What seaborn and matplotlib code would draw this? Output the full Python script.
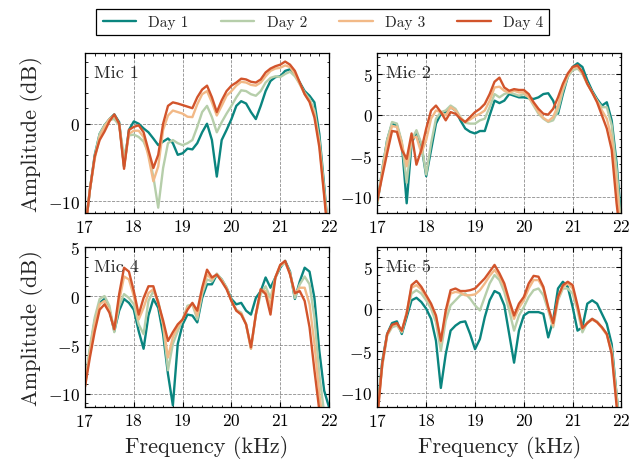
import numpy as np
import pandas as pd
import matplotlib
matplotlib.use("Agg")
import matplotlib.pyplot as plt
from matplotlib.ticker import MultipleLocator, AutoMinorLocator
import seaborn as sns

# ---- data ----
freq = np.round(np.linspace(17.0, 22.0, 51), 1)
days = ["Day 1", "Day 2", "Day 3", "Day 4"]
colors = ["#0a857f", "#b6ceaa", "#f2b987", "#d2542b"]
mics = ["Mic 1", "Mic 2", "Mic 4", "Mic 5"]

mic1_day1 = [-14, -8.5, -4.0, -1.3, -0.2, 0.6, 1.2, 0.2, -5.5, -0.8,
             0.3, 0.0, -0.6, -1.1, -1.9, -2.75, -2.3, -1.9, -2.5, -4.0,
             -3.8, -3.2, -3.3, -2.5, -1.1, 0.0, -2.1, -6.8, -2.1, -0.8,
             0.6, 2.3, 2.9, 2.6, 1.5, 0.6, 2.3, 4.2, 5.5, 6.0,
             6.1, 6.8, 7.0, 6.4, 5.3, 4.2, 3.6, 2.75, -1.3, -8.0, -15]
mic1_day2 = [-14, -8.5, -4.2, -1.3, -0.2, 0.5, 0.6, -0.2, -4.2, -1.5,
             -1.4, -1.7, -2.3, -3.8, -6.8, -10.8, -5.7, -2.5, -2.1, -2.5,
             -2.75, -2.5, -2.1, -0.4, 1.5, 2.3, 0.85, -1.1, 0.2, 1.3,
             2.3, 3.4, 4.3, 4.2, 3.8, 3.6, 4.2, 5.3, 5.9, 6.1,
             6.0, 6.4, 6.7, 6.1, 5.1, 4.0, 3.2, 1.7, -2.1, -8.5, -15]
mic1_day3 = [-14, -8.5, -4.5, -1.7, -0.4, 0.6, 1.06, 0.0, -5.5, -1.3,
             -0.9, -0.9, -1.7, -4.2, -7.4, -5.5, -0.8, 1.06, 1.7, 1.5,
             1.3, 0.9, 0.85, 2.5, 3.8, 4.2, 2.75, 1.06, 2.3, 3.6,
             4.2, 4.9, 5.4, 5.3, 5.0, 4.9, 5.3, 6.1, 6.8, 7.1,
             7.2, 7.5, 7.3, 6.4, 5.1, 3.8, 2.9, 1.3, -2.5, -8.9, -15]
mic1_day4 = [-14, -8.5, -4.2, -2.1, -1.0, 0.3, 1.2, 0.0, -5.8, -0.8,
             -0.4, -0.2, -1.1, -3.4, -5.7, -4.0, 0.0, 2.3, 2.75, 2.6,
             2.4, 2.2, 2.0, 3.4, 4.4, 4.9, 3.4, 1.5, 3.0, 4.2,
             4.9, 5.3, 5.8, 5.7, 5.4, 5.3, 5.7, 6.6, 7.1, 7.4,
             7.6, 8.0, 7.6, 6.8, 5.3, 3.8, 2.8, 0.8, -3.0, -9.3, -16]

mic2_day1 = [-10.8, -6.7, -3.1, -1.1, -1.3, -3.5, -10.8, -3.5, -2.1, -3.7,
             -7.5, -4.3, -1.1, 0.1, 0.3, 0.9, 0.5, -0.7, -1.7, -2.1,
             -2.3, -2.0, -2.0, -0.1, 1.7, 1.4, 1.7, 2.5, 2.3, 2.1,
             2.1, 2.0, 1.9, 2.1, 2.5, 2.6, 1.7, 0.1, 2.5, 4.6,
             5.8, 6.25, 5.8, 4.2, 2.9, 1.9, 1.1, 1.5, -0.7, -5.9, -13]
mic2_day2 = [-10.8, -6.8, -3.1, -0.9, -1.1, -3.3, -8.3, -3.1, -1.9, -3.5,
             -7.3, -3.5, -0.5, 0.3, 0.5, 1.1, 0.7, -0.3, -1.0, -1.1,
             -1.1, -0.7, -0.5, 0.9, 2.5, 2.1, 2.5, 2.7, 2.5, 2.3,
             2.5, 2.1, 1.1, 0.1, -0.5, -0.9, -0.7, 0.5, 2.9, 4.6,
             5.4, 5.6, 5.0, 3.75, 2.7, 1.7, 0.9, 0.9, -1.3, -6.7, -14]
mic2_day3 = [-10.6, -7.0, -3.6, -1.4, -1.5, -3.5, -6.3, -2.9, -2.7, -4.7,
             -3.1, -0.5, 0.5, 0.3, -0.1, 0.9, 0.5, -0.4, -0.9, -0.6,
             -0.2, 0.1, 0.5, 1.7, 3.3, 3.4, 2.9, 2.7, 2.9, 2.7,
             2.7, 2.1, 1.3, 0.3, -0.4, -0.8, -0.3, 1.1, 3.3, 4.8,
             5.7, 5.8, 5.0, 3.75, 2.7, 1.65, 0.5, -0.5, -2.9, -8.3, -15]
mic2_day4 = [-10.4, -7.5, -4.7, -2.0, -2.1, -4.3, -5.4, -2.3, -6.1, -4.3,
             -1.7, 0.5, 1.1, 0.3, -0.7, 0.3, 0.1, -0.5, -0.9, -0.3,
             0.3, 0.7, 1.3, 2.5, 4.0, 4.5, 3.3, 2.9, 3.1, 3.0,
             3.0, 2.5, 1.5, 0.7, 0.1, 0.0, 0.7, 2.1, 3.75, 5.0,
             5.8, 6.0, 5.2, 3.75, 2.7, 1.5, -0.1, -1.7, -4.3, -10.8, -16]

mic4_day1 = [-9.0, -5.6, -2.5, -0.7, -0.3, -1.4, -3.6, -1.5, -0.3, -0.7,
             -1.4, -3.6, -5.4, -2.0, -0.3, -1.2, -3.9, -8.0, -11.2, -4.9,
             -2.9, -1.9, -2.0, -2.7, -0.2, 1.2, 1.2, 2.2, 1.7, 0.85,
             -0.3, -0.85, -0.7, -1.5, -1.9, -0.2, 0.5, 1.9, 0.85, 1.9,
             2.9, 3.6, 2.5, -0.3, 1.5, 2.9, 2.5, -0.2, -5.6, -9.7, -11.4]
mic4_day2 = [-9.0, -5.25, -2.2, -0.3, 0.0, -1.0, -3.7, -1.0, 0.2, -0.2,
             -0.85, -2.9, -3.9, -0.5, 0.5, -0.5, -2.9, -7.6, -4.9, -3.6,
             -2.4, -1.0, -0.85, -2.4, 0.2, 1.7, 1.5, 2.3, 1.7, 0.85,
             -0.5, -1.4, -1.7, -2.9, -5.4, -1.9, 0.2, 1.0, -0.2, 1.9,
             3.05, 3.4, 2.4, -0.2, 1.2, 2.0, 1.2, -2.2, -8.0, -12, -15]
mic4_day3 = [-9.2, -5.8, -2.9, -0.85, -0.5, -1.5, -3.4, -0.5, 2.0, 1.7,
             0.0, -2.4, -1.2, 0.3, 0.7, -0.7, -2.9, -6.3, -4.2, -3.2,
             -2.4, -1.2, -0.8, -2.0, 0.5, 2.2, 1.7, 2.2, 1.6, 0.8,
             -0.5, -1.5, -1.8, -2.9, -5.4, -1.9, 0.6, 0.5, -1.0, 1.9,
             3.15, 3.5, 2.3, 0.2, 0.85, 0.85, -0.85, -4.9, -10, -14, -17]
mic4_day4 = [-9.3, -6.3, -3.6, -1.4, -0.85, -1.7, -3.4, 0.2, 2.9, 2.5,
             0.5, -1.9, -0.2, 1.0, 1.0, -0.7, -2.5, -4.6, -3.7, -2.9,
             -2.4, -1.4, -0.7, -1.5, 0.85, 2.7, 1.9, 2.2, 1.5, 0.7,
             -0.5, -1.5, -1.9, -2.9, -5.25, -1.9, 0.7, 0.2, -1.9, 1.9,
             3.2, 3.6, 2.2, 0.3, 0.5, -0.5, -3.2, -7.6, -11.7, -15, -18]

mic5_day1 = [-12, -6.2, -3.0, -1.7, -1.5, -3.0, -1.0, 1.0, 1.3, 0.8,
             0.0, -1.2, -3.8, -9.4, -5.4, -2.6, -2.0, -1.6, -1.5, -3.0,
             -4.8, -3.6, -1.0, 1.0, 2.1, 1.8, 0.4, -3.0, -6.4, -2.6,
             -0.8, -0.4, -0.4, -0.4, -0.6, -3.4, -1.4, 2.4, 3.2, 2.6,
             0.2, -2.6, -2.2, 0.6, 1.0, 0.6, -0.6, -1.8, -4.2, -10.2, -16]
mic5_day2 = [-12, -6.8, -3.2, -2.2, -2.0, -2.8, -0.6, 1.8, 2.2, 1.8,
             1.0, 0.0, -1.6, -5.0, -1.4, 0.4, 1.0, 1.6, 1.8, 1.2,
             0.4, -0.2, 1.4, 3.0, 4.0, 3.4, 2.0, -0.2, -2.6, -0.8,
             0.2, 1.4, 2.2, 2.4, 1.6, -0.2, -2.2, 1.0, 2.4, 2.4,
             1.8, -0.2, -2.8, -1.6, -1.2, -1.5, -2.2, -3.0, -4.8, -10.2, -16]
mic5_day3 = [-12.5, -6.6, -3.1, -2.0, -1.8, -2.7, -0.4, 2.5, 2.8, 2.3,
             1.4, 0.4, -1.0, -4.0, -0.6, 1.8, 2.0, 1.9, 1.6, 1.6,
             1.7, 2.2, 3.0, 3.9, 4.6, 3.8, 2.6, 0.6, -1.2, 0.1,
             1.0, 2.4, 3.4, 3.4, 2.4, 0.0, -2.0, 1.2, 2.6, 3.0,
             2.4, 0.1, -2.4, -1.7, -1.3, -1.6, -2.3, -3.1, -5.2, -11, -17]
mic5_day4 = [-13, -6.5, -3.0, -1.9, -1.7, -2.6, -0.6, 2.8, 3.3, 2.6,
             1.6, 0.6, -0.8, -3.8, -0.2, 2.2, 2.4, 2.1, 2.1, 2.2,
             2.4, 3.0, 3.6, 4.4, 5.2, 4.2, 3.0, 1.0, -0.8, 0.6,
             1.4, 3.0, 3.9, 3.8, 2.6, 0.2, -1.7, 1.4, 2.8, 3.2,
             2.8, 0.4, -2.3, -1.7, -1.2, -1.6, -2.2, -3.0, -5.4, -11.5, -17]

series = {
    "Mic 1": [mic1_day1, mic1_day2, mic1_day3, mic1_day4],
    "Mic 2": [mic2_day1, mic2_day2, mic2_day3, mic2_day4],
    "Mic 4": [mic4_day1, mic4_day2, mic4_day3, mic4_day4],
    "Mic 5": [mic5_day1, mic5_day2, mic5_day3, mic5_day4],
}
ylims = {"Mic 1": (-11.5, 9.1), "Mic 2": (-12.0, 7.5),
         "Mic 4": (-11.4, 5.0), "Mic 5": (-11.7, 7.3)}
ysteps = {"Mic 1": 10, "Mic 2": 5, "Mic 4": 5, "Mic 5": 5}

# ---- style ----
sns.set_style("ticks")
plt.rcParams["font.family"] = "serif"
plt.rcParams["font.serif"] = ["cmr10"]
plt.rcParams["mathtext.fontset"] = "cm"
plt.rcParams["axes.formatter.use_mathtext"] = True
plt.rcParams["axes.unicode_minus"] = True
plt.rcParams["xtick.direction"] = "in"
plt.rcParams["ytick.direction"] = "in"
plt.rcParams["xtick.top"] = True
plt.rcParams["ytick.right"] = True
plt.rcParams["xtick.major.size"] = 3.5
plt.rcParams["ytick.major.size"] = 3.5
plt.rcParams["xtick.minor.size"] = 1.8
plt.rcParams["ytick.minor.size"] = 1.8
plt.rcParams["axes.edgecolor"] = "black"
plt.rcParams["axes.linewidth"] = 0.9
plt.rcParams["lines.solid_joinstyle"] = "round"
plt.rcParams["lines.solid_capstyle"] = "round"

fig, axes = plt.subplots(2, 2, figsize=(6.42, 4.64), dpi=100)
fig.subplots_adjust(left=0.1324, right=0.968, top=0.8836, bottom=0.12,
                    wspace=0.198, hspace=0.213)

for ax, mic in zip(axes.flat, mics):
    df = pd.DataFrame({
        "freq": np.tile(freq, len(days)),
        "amp": np.concatenate(series[mic]),
        "day": np.repeat(days, len(freq)),
    })
    sns.lineplot(data=df, x="freq", y="amp", hue="day", palette=colors,
                 linewidth=1.7, ax=ax, legend=False)
    ax.set_xlim(17, 22)
    ax.set_ylim(*ylims[mic])
    ax.xaxis.set_major_locator(MultipleLocator(1))
    ax.xaxis.set_minor_locator(AutoMinorLocator(5))
    ax.yaxis.set_major_locator(MultipleLocator(ysteps[mic]))
    ax.yaxis.set_minor_locator(AutoMinorLocator(5))
    ax.tick_params(which="both", direction="in", top=True, right=True,
                   labelsize=12.5, colors="black")
    ax.grid(True, which="major", linestyle="--", color="gray",
            linewidth=0.6, alpha=0.9)
    ax.text(0.035, 0.93, mic, transform=ax.transAxes, fontsize=13,
            va="top", ha="left")
    ax.set_xlabel("")
    ax.set_ylabel("")

for ax in axes[1]:
    ax.set_xlabel("Frequency (kHz)", fontsize=16)
for ax in axes[:, 0]:
    ax.set_ylabel("Amplitude (dB)", fontsize=16)

handles = [plt.Line2D([], [], color=c, linewidth=1.7) for c in colors]
leg = fig.legend(handles, days, loc="upper center", ncol=4,
                 bbox_to_anchor=(0.503, 0.995), fontsize=11,
                 frameon=True, fancybox=False, edgecolor="black",
                 framealpha=1, handlelength=2.2, columnspacing=2.1)
leg.get_frame().set_linewidth(0.9)

fig.savefig("out.png", dpi=100)
